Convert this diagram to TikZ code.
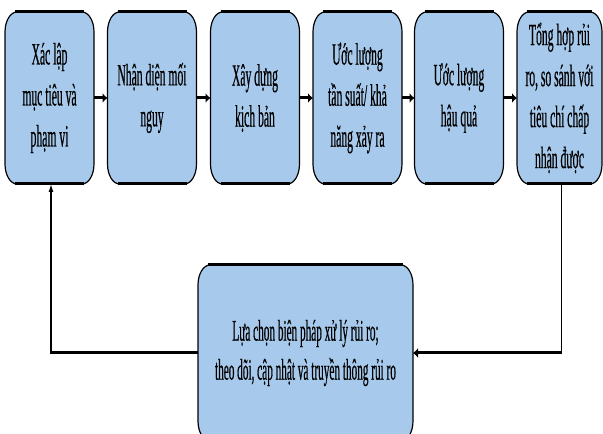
\documentclass[tikz,border=0pt]{standalone}
\usepackage{fontspec}
\newfontfamily\nf[FakeStretch=0.375,FakeBold=0.4]{Liberation Serif}
\usetikzlibrary{arrows.meta,backgrounds}
\definecolor{boxblue}{RGB}{167,201,235}
\newcommand\rboxpath[1]{([xshift=12pt]#1.north west) -- ([xshift=-12pt]#1.north east) arc[start angle=90,end angle=0,x radius=12pt,y radius=20pt] -- ([yshift=20pt]#1.south east) arc[start angle=0,end angle=-90,x radius=12pt,y radius=20pt] -- ([xshift=12pt]#1.south west) arc[start angle=270,end angle=180,x radius=12pt,y radius=20pt] -- ([yshift=-20pt]#1.north west) arc[start angle=180,end angle=90,x radius=12pt,y radius=20pt] -- cycle}
\newcommand\rbox[1]{%
  \fill[boxblue] \rboxpath{#1};
  \draw[line width=1.2pt] \rboxpath{#1};
  \draw[line width=3pt] ([xshift=10pt]#1.north west) -- ([xshift=-10pt]#1.north east);
  \draw[line width=3pt] ([xshift=10pt]#1.south west) -- ([xshift=-10pt]#1.south east);
}
\begin{document}
\begin{tikzpicture}[x=1pt,y=1pt,
  stepbox/.style={rectangle,draw=none,outer sep=0pt,inner sep=0pt,align=center,
    minimum width=89pt,minimum height=172pt,
    font=\nf\fontsize{31pt}{41pt}\selectfont},
  bigbox/.style={stepbox,minimum width=215pt,minimum height=176pt,
    font=\nf\fontsize{30pt}{39pt}\selectfont},
  harrow/.style={line width=3pt,-{Latex[length=5pt,width=10pt]}},
  hline/.style={line width=3pt},
  vline/.style={line width=1.2pt},
  varrow/.style={line width=1.2pt,-{Latex[length=8pt,width=5pt]}}]
\useasboundingbox (0,0) rectangle (603,434);
\node[stepbox] (b1) at (49.5,336) {Xác lập\\mục tiêu và\\phạm vi};
\node[stepbox] (b2) at (152,336) {Nhận diện mối\\nguy};
\node[stepbox] (b3) at (255,336) {Xây dựng\\kịch bản};
\node[stepbox] (b4) at (357.5,336) {Ước lượng\\tần suất/ khả\\năng xảy ra};
\node[stepbox] (b5) at (459,336) {Ước lượng\\hậu quả};
\node[stepbox,minimum width=85pt] (b6) at (559.5,336) {Tổng hợp rủi\\ro, so sánh với\\tiêu chí chấp\\nhận được};
\node[bigbox] (b7) at (305.5,81) {Lựa chọn biện pháp xử lý rủi ro;\\theo dõi, cập nhật và truyền thông rủi ro};
\begin{scope}[on background layer]
  \rbox{b1}\rbox{b2}\rbox{b3}\rbox{b4}\rbox{b5}\rbox{b6}\rbox{b7}
\end{scope}
\draw[harrow] (b1.east) -- (b2.west);
\draw[harrow] (b2.east) -- (b3.west);
\draw[harrow] (b3.east) -- (b4.west);
\draw[harrow] (b4.east) -- (b5.west);
\draw[harrow] (b5.east) -- (b6.west);
\coordinate (c1) at ([xshift=2pt]b6.south |- b7.east);
\coordinate (c2) at ([xshift=1.5pt]b1.south |- b7.west);
\draw[vline] ([xshift=2pt]b6.south) -- ([yshift=-1.5pt]c1);
\draw[harrow] (c1) -- (b7.east);
\draw[hline] (b7.west) -- ([xshift=-0.6pt]c2);
\draw[varrow] ([yshift=-1.5pt]c2) -- ([xshift=1.5pt]b1.south);
\end{tikzpicture}
\end{document}
